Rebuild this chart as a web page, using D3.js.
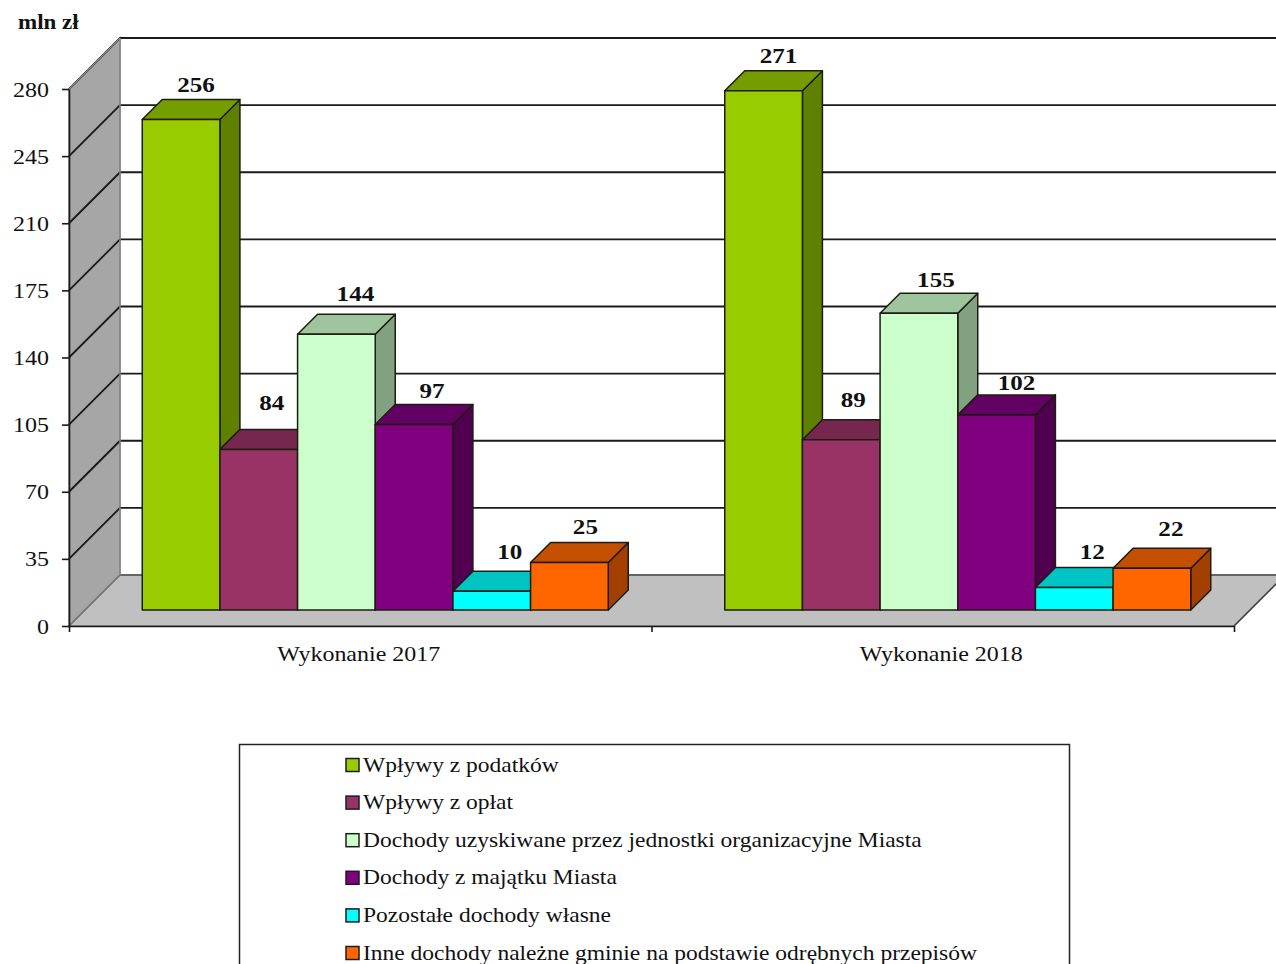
<!DOCTYPE html>
<html><head><meta charset="utf-8">
<script src="https://cdn.jsdelivr.net/npm/d3@7"></script>
<style>
html,body{margin:0;padding:0;background:#fff;overflow:hidden}
svg{display:block}
text{font-family:"Liberation Serif",serif;fill:#111}
</style></head><body>
<svg id="c" width="1276" height="964"></svg>
<script>
const categories = ["Wykonanie 2017","Wykonanie 2018"];
const seriesNames = ["Wpływy z podatków","Wpływy z opłat","Dochody uzyskiwane przez jednostki organizacyjne Miasta","Dochody z majątku Miasta","Pozostałe dochody własne","Inne dochody należne gminie na podstawie odrębnych przepisów"];
const seriesColors = ["#99cc00","#993366","#ccffcc","#800080","#00ffff","#ff6600"];
const values2017 = [256,84,144,97,10,25];
const values2018 = [271,89,155,102,12,22];
const yTicks = [0,35,70,105,140,175,210,245,280];
const unit = "mln zł";

// label placement tweaks (dx, dy) per category and series
const labelNudge2017 = [[-2,0],[-4,-12],[2,-6],[1,1],[1,-5],[-1,-1]];
const labelNudge2018 = [[-2,0],[-5,-5],[0,1],[3,3],[1,-1],[2,-5]];

const svg = d3.select("#c");
const W = 1276, depth = 51, barDepth = 20, floorInset = 16, floorInsetX = 15;
const axisX = 69, axisRight = 1234, y0 = 626, yTop = 89;
const y = d3.scaleLinear().domain([0,280]).range([y0,yTop]);
const x0 = d3.scaleBand().domain(categories).range([axisX,axisRight]);
const x1 = d3.scaleBand().domain(d3.range(seriesNames.length)).range([0,x0.bandwidth()]).paddingInner(0).paddingOuter(0.75);
const poly = p => p.map(q=>q.join(",")).join(" ");
const stretch = (sel,k) => sel.each(function(){
  this.setAttribute("textLength", this.getComputedTextLength()*k);
  this.setAttribute("lengthAdjust","spacingAndGlyphs");
});

const g = svg.append("g");
// left wall, floor, back wall
g.append("polygon").attr("points",poly([[axisX,y0],[axisX,yTop],[axisX+depth,yTop-depth],[axisX+depth,y0-depth]]))
 .attr("fill","#a6a6a6").attr("stroke","#808080").attr("stroke-width",1.5);
g.append("polygon").attr("points",poly([[axisX,y0],[axisX+depth,y0-depth],[axisRight+depth,y0-depth],[axisRight,y0]]))
 .attr("fill","#c0c0c0").attr("stroke","#808080").attr("stroke-width",1.5);
// gridlines
g.selectAll("polyline.grid").data(yTicks.slice(1)).join("polyline").attr("class","grid")
 .attr("points",d=>poly([[axisX,y(d)],[axisX+depth,y(d)-depth],[W+2,y(d)-depth]]))
 .attr("fill","none").attr("stroke","#1a1a1a").attr("stroke-width",1.8);
g.append("line").attr("x1",axisX+depth).attr("x2",W+2).attr("y1",y0-depth).attr("y2",y0-depth).attr("stroke","#555").attr("stroke-width",1.5);
g.append("line").attr("x1",axisX+depth).attr("x2",axisX+depth).attr("y1",yTop-depth).attr("y2",y0-depth).attr("stroke","#8a8a8a").attr("stroke-width",1.5);
g.append("line").attr("x1",axisX).attr("x2",axisX+depth).attr("y1",yTop).attr("y2",yTop-depth).attr("stroke","#8a8a8a").attr("stroke-width",1.5);
g.append("line").attr("x1",axisX).attr("x2",axisX+depth).attr("y1",y0).attr("y2",y0-depth).attr("stroke","#777").attr("stroke-width",1.5);
g.append("line").attr("x1",axisRight).attr("x2",axisRight+depth).attr("y1",y0).attr("y2",y0-depth).attr("stroke","#444").attr("stroke-width",1.5);

// bars
const shade = (c,k)=>{const r=d3.rgb(c);return d3.rgb(r.r*k,r.g*k,r.b*k).formatHex();};
const edge = "#1c1c10";
categories.forEach((cat,ci)=>{
  const vals = ci===0?values2017:values2018;
  vals.forEach((v,si)=>{
    const l = x0(cat)+x1(si)+floorInsetX, r = l+x1.bandwidth();
    const b = y(0)-floorInset, t = y(v)-floorInset+0.5;
    const d = barDepth;
    const bar = g.append("g").attr("stroke",edge).attr("stroke-width",1.5).attr("stroke-linejoin","round");
    bar.append("polygon").attr("points",poly([[r,b],[r,t],[r+d,t-d],[r+d,b-d]])).attr("fill",shade(seriesColors[si],0.63));
    bar.append("polygon").attr("points",poly([[l,t],[l+d,t-d],[r+d,t-d],[r,t]])).attr("fill",shade(seriesColors[si],0.77));
    bar.append("rect").attr("x",l).attr("y",t).attr("width",r-l).attr("height",b-t).attr("fill",seriesColors[si]);
  });
});
// value labels on top
categories.forEach((cat,ci)=>{
  const vals = ci===0?values2017:values2018, nudge = ci===0?labelNudge2017:labelNudge2018;
  vals.forEach((v,si)=>{
    const cx = x0(cat)+x1(si)+floorInsetX+x1.bandwidth()/2+barDepth-3+nudge[si][0];
    const by = y(v)-floorInset-barDepth-7+nudge[si][1];
    const t = g.append("text").attr("x",cx).attr("y",by).attr("text-anchor","middle")
     .attr("font-size",22).attr("font-weight","bold").text(v);
    stretch(t,1.14);
  });
});

// axes
const ya = d3.axisLeft(y).tickValues(yTicks).tickSize(7).tickPadding(13).tickSizeOuter(0);
const yg = svg.append("g").attr("transform",`translate(${axisX},0)`).call(ya);
yg.selectAll("text").attr("font-size",22).attr("dy","0.32em").attr("font-family","Liberation Serif").attr("fill","#222");
stretch(yg.selectAll("text"),1.09);
yg.selectAll("line,path").attr("stroke","#1a1a1a").attr("stroke-width",1.6);
const xa = d3.axisBottom(d3.scaleLinear().domain([0,categories.length]).range([axisX,axisRight])).tickValues(d3.range(categories.length+1)).tickFormat("").tickSize(6).tickSizeOuter(0);
const xg = svg.append("g").attr("transform",`translate(0,${y0})`).call(xa);
xg.selectAll("line,path").attr("stroke","#1a1a1a").attr("stroke-width",1.6);
const ct = svg.selectAll("text.cat").data(categories).join("text").attr("class","cat")
 .attr("x",d=>x0(d)+x0.bandwidth()/2-1.5).attr("y",661).attr("text-anchor","middle").attr("font-size",22).text(d=>d);
stretch(ct,1.09);
stretch(svg.append("text").attr("x",18).attr("y",29).attr("font-size",20).attr("font-weight","bold").text(unit),1.15);

// legend
svg.append("rect").attr("x",239.5).attr("y",744.5).attr("width",830).attr("height",300).attr("fill","#fff").attr("stroke","#222").attr("stroke-width",1.5);
const ly = d3.scalePoint().domain(seriesNames).range([765,953]);
const lg = svg.selectAll("g.leg").data(seriesNames).join("g").attr("class","leg").attr("transform",d=>`translate(0,${ly(d)})`);
lg.append("rect").attr("x",346).attr("y",-6.5).attr("width",13).attr("height",13).attr("fill",(d,i)=>seriesColors[i]).attr("stroke","#1c1c1c").attr("stroke-width",1.5);
stretch(lg.append("text").attr("x",363).attr("y",6.5).attr("font-size",22).text(d=>d),1.068);
</script>
</body></html>
